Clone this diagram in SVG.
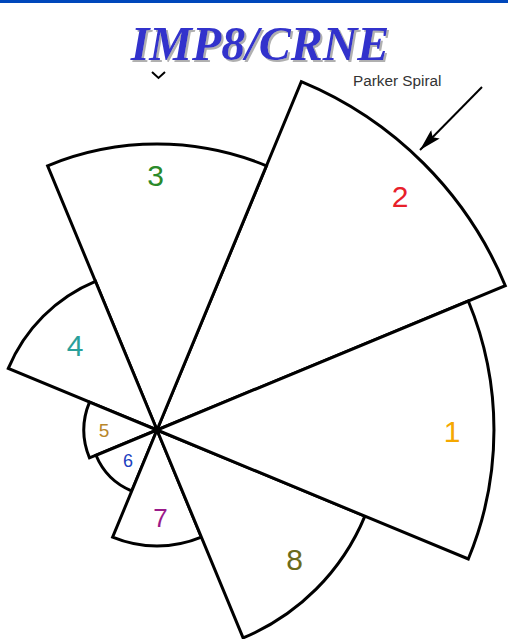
<svg xmlns="http://www.w3.org/2000/svg" width="508" height="639" viewBox="0 0 508 639">
<defs>
<style>
.sec{fill:#fff;stroke:#000;stroke-width:3;stroke-linejoin:miter}
.num{font-family:"Liberation Sans",Arial,sans-serif;text-anchor:middle}
.title{font-family:"Liberation Serif","Times New Roman",serif;font-weight:bold;font-style:italic;font-size:48px;text-anchor:middle}
</style>
<filter id="shadow" x="-10%" y="-20%" width="120%" height="150%">
<feOffset in="SourceAlpha" dx="2" dy="2" result="o"/>
<feFlood flood-color="#b0b0b0"/>
<feComposite in2="o" operator="in" result="s"/>
<feMerge><feMergeNode in="s"/><feMergeNode in="SourceGraphic"/></feMerge>
</filter>
<marker id="ah" viewBox="0 0 22 12" refX="22" refY="6" markerWidth="22" markerHeight="12" markerUnits="userSpaceOnUse" orient="auto">
<path d="M0,0 L22,6 L0,12 L4,6 Z" fill="#000"/>
</marker>
</defs>
<rect width="508" height="639" fill="#fff"/>
<rect x="0" y="0" width="508" height="3" fill="#0047bb"/>
<g id="title">
<text class="title" x="260" y="60" fill="#3333cc" filter="url(#shadow)">IMP8/CRNE</text>
</g>
<g id="tick"><polyline points="152,72 158.5,78 165,72" fill="none" stroke="#000" stroke-width="2"/></g>
<g id="s2"><path class="sec" d="M157,430 L505.3,285.7 A377,377 0 0 0 301.3,81.7 Z"/><text class="num" x="400" y="207" font-size="30" fill="#e8202a">2</text></g>
<g id="s3"><path class="sec" d="M157,430 L266.4,165.8 A286,286 0 0 0 47.6,165.8 Z"/><text class="num" x="155.5" y="186" font-size="30" fill="#2a8a2a">3</text></g>
<g id="s4"><path class="sec" d="M157,430 L95.4,281.3 A161,161 0 0 0 8.3,368.4 Z"/><text class="num" x="75" y="356" font-size="30" fill="#2aa09a">4</text></g>
<g id="s5"><path class="sec" d="M157,430 L89.5,402.1 A73,73 0 0 0 89.5,457.9 Z"/><text class="num" x="104" y="437" font-size="19" fill="#b8862a">5</text></g>
<g id="s6"><path class="sec" d="M157,430 L96,455.3 A66,66 0 0 0 131.7,491 Z"/><text class="num" x="128" y="467" font-size="18" fill="#2040c0">6</text></g>
<g id="s7"><path class="sec" d="M157,430 L112.6,537.2 A116,116 0 0 0 201.4,537.2 Z"/><text class="num" x="160.5" y="527" font-size="26" fill="#9a1a8a">7</text></g>
<g id="s8"><path class="sec" d="M157,430 L243.1,637.9 A225,225 0 0 0 364.9,516.1 Z"/><text class="num" x="294.5" y="570" font-size="30" fill="#6b6b1a">8</text></g>
<g id="s1"><path class="sec" d="M157,430 L468.3,559 A337,337 0 0 0 468.3,301 Z"/><text class="num" x="452" y="442" font-size="30" fill="#f5a800">1</text></g>
<g id="parker"><text x="353" y="86" font-family="Liberation Sans,Arial,sans-serif" font-size="15.3" fill="#333">Parker Spiral</text></g>
<g id="connectors"><line x1="482" y1="87" x2="420" y2="150" stroke="#000" stroke-width="2" marker-end="url(#ah)"/></g>
</svg>
